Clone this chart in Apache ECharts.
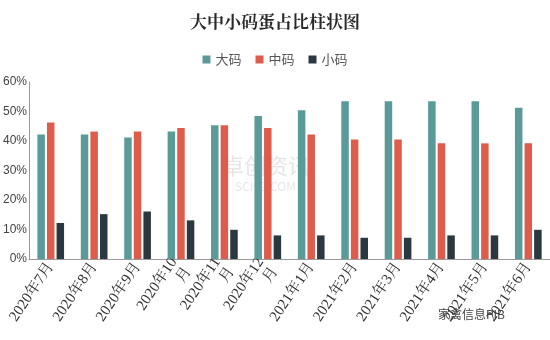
<!DOCTYPE html>
<html><head><meta charset="utf-8">
<script src="https://cdn.jsdelivr.net/npm/echarts@6/dist/echarts.min.js"></script>
<style>html,body{margin:0;padding:0;background:#fff}#c{width:550px;height:340px}</style>
</head><body><div id="c"></div>
<script>
var categories = ['2020年7月','2020年8月','2020年9月','2020年10月','2020年11月','2020年12月','2021年1月','2021年2月','2021年3月','2021年4月','2021年5月','2021年6月'];
var large = [42.2,42.2,41.2,43.2,45.3,48.5,50.4,53.5,53.5,53.5,53.5,51.3];
var medium = [46.3,43.2,43.2,44.4,45.3,44.4,42.2,40.5,40.5,39.2,39.2,39.2];
var small = [12.2,15.2,16.1,13.1,9.9,8.0,8.0,7.2,7.2,8.0,8.0,9.9];
var seriesNames = ['大码','中码','小码'];
var colors = ['#5A9A98','#DD5C4C','#2A3840'];
var chart = echarts.init(document.getElementById('c'));
var font = '"Noto Sans CJK SC", sans-serif';
chart.setOption({
  animation:false,
  title:{text:'大中小码蛋占比柱状图',left:'center',top:8,textStyle:{fontSize:17,fontWeight:'bold',color:'#2a2a2a',fontFamily:'"Noto Serif CJK SC","Noto Sans CJK SC",serif'}},
  legend:{top:48,left:'center',itemWidth:8,itemHeight:8,itemGap:14,icon:'rect',textStyle:{fontSize:13,color:'#555',fontFamily:font},data:seriesNames},
  grid:{left:24,right:0,top:82,bottom:81,containLabel:false},
  xAxis:{type:'category',data:categories,axisLine:{lineStyle:{color:'#999'}},axisTick:{show:false},
    axisLabel:{rotate:56,interval:0,fontSize:15,lineHeight:17,color:'#333',fontFamily:'"Liberation Serif","Noto Serif CJK SC",serif',margin:5,
      formatter:function(v){return v.length>7? v.slice(0,7)+'\n'+v.slice(7):v;}}},
  yAxis:{type:'value',min:0,max:60,interval:10,splitLine:{show:false},
    axisLine:{show:true,lineStyle:{color:'#999'}},axisTick:{show:false},
    axisLabel:{formatter:'{value}%',fontSize:12,color:'#444',margin:2,fontFamily:'"Liberation Sans",sans-serif'}},
  series:[
    {name:seriesNames[0],type:'bar',data:large,itemStyle:{color:colors[0]},barWidth:7.5,barGap:'28%'},
    {name:seriesNames[1],type:'bar',data:medium,itemStyle:{color:colors[1]},barWidth:7.5,barGap:'28%'},
    {name:seriesNames[2],type:'bar',data:small,itemStyle:{color:colors[2]},barWidth:7.5,barGap:'28%'}
  ],
  graphic:[
    {type:'text',left:222,top:155,style:{text:'卓创资讯',fontSize:22,fill:'rgba(150,150,150,0.25)',fontFamily:font}},
    {type:'text',left:235,top:180,style:{text:'SCI99.COM',fontSize:12,fill:'rgba(150,150,150,0.25)',fontFamily:font}},
    {type:'text',left:438,top:308,style:{text:'家禽信息PIB',fontSize:12,fill:'#444',fontFamily:font}}
  ]
});
</script></body></html>
